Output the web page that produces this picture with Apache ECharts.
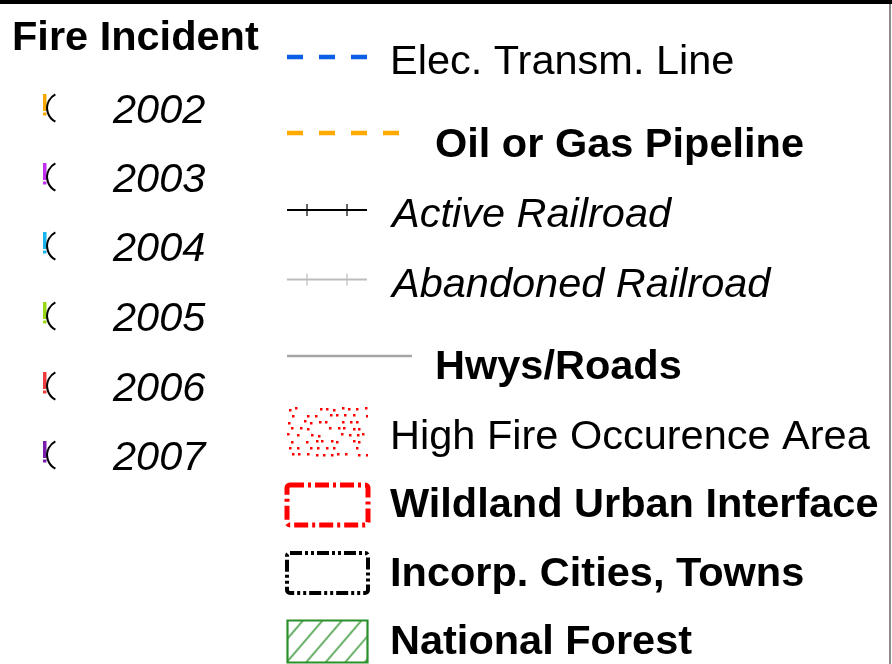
<!DOCTYPE html>
<html><head><meta charset="utf-8">
<script src="https://cdn.jsdelivr.net/npm/echarts@6/dist/echarts.min.js"></script>
<style>html,body{margin:0;padding:0;background:#fff}#c{width:892px;height:664px}</style>
</head><body><div id="c"></div>
<script>
// ---- content ----
const fireTitle = 'Fire Incident';
const fireYears = ['2002', '2003', '2004', '2005', '2006', '2007'];
const layerNames = ['Elec. Transm. Line', 'Oil or Gas Pipeline', 'Active Railroad', 'Abandoned Railroad',
  'Hwys/Roads', 'High Fire Occurence Area', 'Wildland Urban Interface', 'Incorp. Cities, Towns', 'National Forest'];

// ---- styles / layout ----
const FONT = '"Liberation Sans", Arial, sans-serif';
const FS = 41.5;
const TY = 3; // text vertical offset
const yearColors = ['#f5a800', '#c02ef0', '#18b4ee', '#9ad816', '#ee3c3c', '#7a1eb0'];
const yearRowY = [108, 177, 246, 316, 386, 455];
const layerText = [
  {x: 390, y: 60, w: 'normal', s: 'normal'},
  {x: 435, y: 143, w: 'bold', s: 'normal'},
  {x: 392, y: 212, w: 'normal', s: 'italic'},
  {x: 392, y: 282, w: 'normal', s: 'italic'},
  {x: 435, y: 365, w: 'bold', s: 'normal'},
  {x: 390, y: 435, w: 'normal', s: 'normal'},
  {x: 390, y: 503, w: 'bold', s: 'normal'},
  {x: 390, y: 572, w: 'bold', s: 'normal'},
  {x: 390, y: 640, w: 'bold', s: 'normal'}
];

function dotsCanvas(w, h) {
  const c = document.createElement('canvas'); c.width = w; c.height = h;
  const g = c.getContext('2d'); g.fillStyle = '#ff0000';
  let s = 11;
  const rnd = () => { s = (s * 9301 + 49297) % 233280; return s / 233280; };
  let row = 0;
  for (let yy = 1; yy < h - 1; yy += 6.5, row++) {
    for (let xx = (row % 2) * 3.5; xx < w - 2; xx += 7.5) {
      const px = Math.round(xx + rnd() * 3);
      const py = Math.round(yy + rnd() * 2 - 1);
      if (rnd() < 0.8) g.fillRect(px, py, 2.5, 2.5);
    }
  }
  return c;
}
function hatchCanvas(w, h) {
  const c = document.createElement('canvas'); c.width = w; c.height = h;
  const g = c.getContext('2d'); g.strokeStyle = '#2a8f2a'; g.lineWidth = 1.4;
  for (let x0 = -40; x0 < w + 40; x0 += 19.5) {
    g.beginPath(); g.moveTo(x0, h); g.lineTo(x0 + 36, 0); g.stroke();
  }
  return c;
}

const els = [];
// frame
els.push({type: 'rect', shape: {x: 0, y: 0, width: 892, height: 4}, style: {fill: '#000'}});
els.push({type: 'rect', shape: {x: 889, y: 4, width: 2, height: 660}, style: {fill: '#8a8a8a'}});
// title
els.push({type: 'text', x: 12, y: 37 + TY - 1, style: {text: fireTitle, font: 'bold ' + FS + 'px ' + FONT, fill: '#000', textVerticalAlign: 'middle'}});
// fire rows
fireYears.forEach((yr, i) => {
  const cy = yearRowY[i];
  els.push({type: 'rect', shape: {x: 43, y: cy - 14, width: 3.5, height: 17}, style: {fill: yearColors[i]}});
  els.push({type: 'rect', shape: {x: 43, y: cy + 4.5, width: 3.5, height: 3}, style: {fill: yearColors[i]}});
  els.push({type: 'arc', shape: {cx: 62.5, cy: cy, r: 15.4, startAngle: 2.05, endAngle: 4.23, clockwise: true},
    style: {stroke: '#000', lineWidth: 2, fill: null}});
  els.push({type: 'text', x: 113, y: cy + TY, style: {text: yr, font: 'italic ' + FS + 'px ' + FONT, fill: '#000', textVerticalAlign: 'middle'}});
});
// layer texts
layerNames.forEach((nm, i) => {
  const t = layerText[i];
  els.push({type: 'text', x: t.x, y: t.y + TY, style: {text: nm, font: t.s + ' ' + t.w + ' ' + FS + 'px ' + FONT, fill: '#000', textVerticalAlign: 'middle'}});
});
// symbols
els.push({type: 'line', shape: {x1: 287, y1: 57, x2: 367, y2: 57}, style: {stroke: '#0a5fe6', lineWidth: 4.5, lineDash: [16, 16]}});
els.push({type: 'line', shape: {x1: 287, y1: 133, x2: 399, y2: 133}, style: {stroke: '#ffaa00', lineWidth: 4.5, lineDash: [16, 16]}});
[[210, '#000'], [279.5, '#bdbdbd']].forEach(([y, col]) => {
  els.push({type: 'line', shape: {x1: 287, y1: y, x2: 367, y2: y}, style: {stroke: col, lineWidth: 2}});
  [307, 347].forEach(x => els.push({type: 'line', shape: {x1: x, y1: y - 6, x2: x, y2: y + 6}, style: {stroke: col, lineWidth: 1.2}}));
});
els.push({type: 'line', shape: {x1: 287, y1: 356, x2: 412, y2: 356}, style: {stroke: '#a6a6a6', lineWidth: 2.5}});
els.push({type: 'image', style: {image: dotsCanvas(81, 50), x: 287, y: 407, width: 81, height: 50}});
els.push({type: 'rect', shape: {x: 287, y: 485, width: 81, height: 40, r: 3}, style: {fill: null, stroke: '#ff0000', lineWidth: 5, lineDash: [14, 4, 3, 4]}});
els.push({type: 'rect', shape: {x: 287, y: 553, width: 81, height: 40, r: 3}, style: {fill: null, stroke: '#000', lineWidth: 4, lineDash: [12, 3, 3, 3, 3, 3]}});
els.push({type: 'image', style: {image: hatchCanvas(80, 42), x: 287.5, y: 620.5, width: 80, height: 42}});
els.push({type: 'rect', shape: {x: 287.5, y: 620.5, width: 80, height: 42}, style: {fill: null, stroke: '#2a8f2a', lineWidth: 2.2}});

const chart = echarts.init(document.getElementById('c'), null, {renderer: 'canvas'});
chart.setOption({backgroundColor: '#fff', animation: false, graphic: {elements: els}});
</script></body></html>
